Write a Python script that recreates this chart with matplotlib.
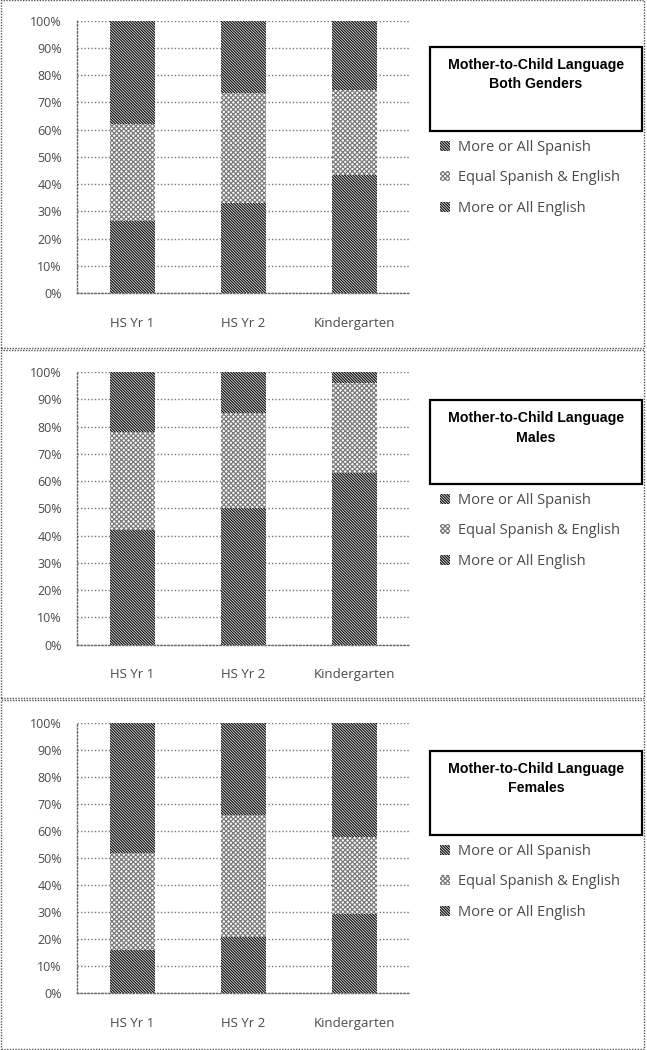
import matplotlib
matplotlib.use("Agg")
import matplotlib.pyplot as plt
from matplotlib.patches import Rectangle, Patch
import numpy as np

plt.rcParams['hatch.linewidth'] = 0.9

categories = ["HS Yr 1", "HS Yr 2", "Kindergarten"]
series_names = ["More or All English", "Equal Spanish & English", "More or All Spanish"]

both_english = [26.5, 33.0, 43.5]
both_equal = [35.5, 40.5, 31.0]
both_spanish = [38.0, 26.5, 25.5]

males_english = [42.0, 50.0, 63.0]
males_equal = [36.0, 35.0, 33.0]
males_spanish = [22.0, 15.0, 4.0]

females_english = [16.0, 21.0, 29.5]
females_equal = [36.0, 45.0, 28.5]
females_spanish = [48.0, 34.0, 42.0]

titles = ["Mother-to-Child Language\nBoth Genders",
          "Mother-to-Child Language\nMales",
          "Mother-to-Child Language\nFemales"]
yticks = [0, 10, 20, 30, 40, 50, 60, 70, 80, 90, 100]
ytick_labels = ["0%", "10%", "20%", "30%", "40%", "50%", "60%", "70%", "80%", "90%", "100%"]

panels = [
    (both_english, both_equal, both_spanish),
    (males_english, males_equal, males_spanish),
    (females_english, females_equal, females_spanish),
]

W, H = 647, 1050
fig = plt.figure(figsize=(W / 100, H / 100), dpi=100)

# panel geometry in pixels
panel_top = [0, 350, 700]
ax_top = [20.7, 372.0, 723.3]
ax_bot = [293.0, 644.7, 993.3]
box_top = [47, 400, 751]

dark = dict(facecolor="white", edgecolor="#111111", hatch="\\" * 12)
light = dict(facecolor="white", edgecolor="#7a7a7a", hatch="x" * 7)
styles = [dark, light, dark]

tick_font = dict(family="Open Sans", size=9, color="#4a4a4a")

for i, (eng, eq, spa) in enumerate(panels):
    # panel dotted border
    pt = panel_top[i]
    pb = pt + 348 if i < 2 else 1049
    fig.patches.append(Rectangle((1 / W, 1 - pb / H), 643 / W, (pb - pt) / H,
                                 transform=fig.transFigure, fill=False,
                                 edgecolor="#555555", linestyle=(0, (1, 1)),
                                 linewidth=1.0))
    left, right = 77, 410
    ax = fig.add_axes([left / W, 1 - ax_bot[i] / H, (right - left) / W,
                       (ax_bot[i] - ax_top[i]) / H])
    x = np.arange(len(categories))
    bottom = np.zeros(len(categories))
    for vals, st in zip((eng, eq, spa), styles):
        ax.bar(x, vals, width=0.405, bottom=bottom, linewidth=0, **st)
        bottom = bottom + np.array(vals)
    ax.set_xlim(-0.5, 2.5)
    ax.set_ylim(0, 100)
    ax.set_yticks(yticks)
    ax.set_yticklabels(ytick_labels, **tick_font)
    ax.set_xticks(x)
    ax.set_xticklabels(categories, family="Open Sans", size=9.5, color="#4a4a4a")
    ax.tick_params(axis="y", length=0, pad=10.8)
    ax.tick_params(axis="x", length=0, pad=17)
    ax.set_axisbelow(True)
    ax.yaxis.grid(True, linestyle=(0, (1, 1.5)), color="#777777", linewidth=1.0)
    for s in ("top", "right"):
        ax.spines[s].set_visible(False)
    for s in ("left", "bottom"):
        ax.spines[s].set_linestyle((0, (1, 1.5)))
        ax.spines[s].set_color("#666666")
        ax.spines[s].set_linewidth(1.0)

    # title box
    bt = box_top[i]
    fig.patches.append(Rectangle((430 / W, 1 - (bt + 84) / H), 212 / W, 84 / H,
                                 transform=fig.transFigure, fill=False,
                                 edgecolor="black", linewidth=1.6))
    fig.text(536 / W, 1 - (bt + 11) / H, titles[i], ha="center", va="top",
             family="Liberation Sans", size=10.2, weight="bold",
             linespacing=1.5, color="black")

    # legend
    handles = [Patch(**styles[2], linewidth=0), Patch(**styles[1], linewidth=0),
               Patch(**styles[0], linewidth=0)]
    labels = [series_names[2], series_names[1], series_names[0]]
    leg = fig.legend(handles, labels, loc="upper left",
                     bbox_to_anchor=(427 / W, 1 - (bt + 80) / H),
                     frameon=False, handlelength=0.7, handleheight=0.7,
                     handletextpad=0.5, labelspacing=1.05,
                     prop=dict(family="Open Sans", size=10.5))
    for t in leg.get_texts():
        t.set_color("#4a4a4a")

fig.savefig("out.png", dpi=100)
